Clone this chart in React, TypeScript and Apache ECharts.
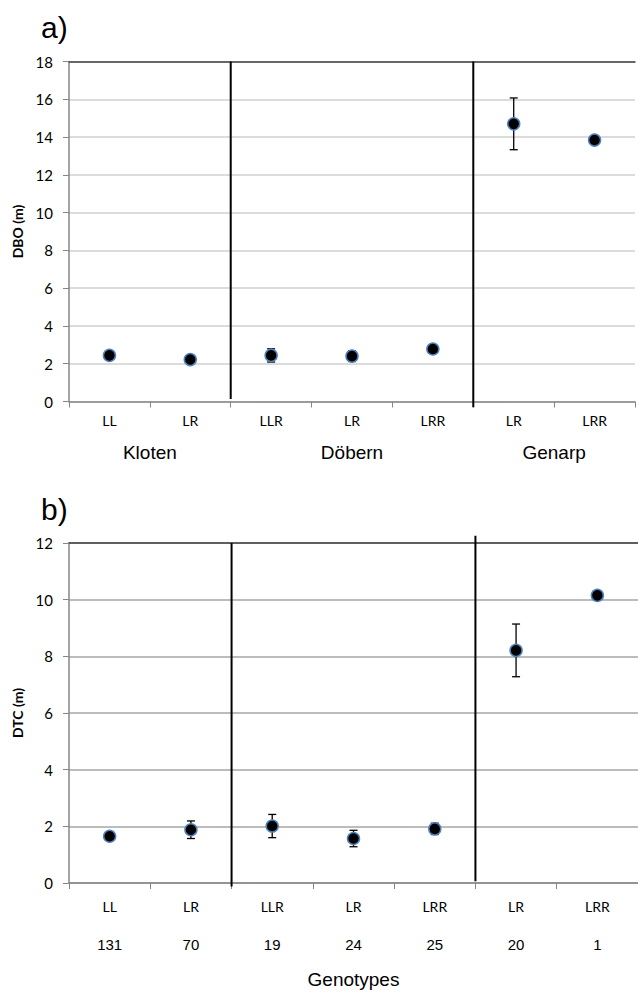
import React, { useEffect, useRef } from "react";
import * as echarts from "echarts";

// ---- data ----
const genotypes = ["LL", "LR", "LLR", "LR", "LRR", "LR", "LRR"];
const counts = ["131", "70", "19", "24", "25", "20", "1"];
const sites = ["Kloten", "Döbern", "Genarp"];
const siteSpans = [2, 3, 2]; // number of genotypes per site

const dboMean = [2.44, 2.22, 2.44, 2.4, 2.78, 14.7, 13.84];
const dboErr = [0.08, 0.08, 0.35, 0.28, 0.13, 1.37, 0];
const dtcMean = [1.65, 1.88, 2.01, 1.57, 1.91, 8.21, 10.15];
const dtcErr = [0.05, 0.31, 0.41, 0.29, 0.2, 0.93, 0];

// divider lines between sites: [x boundary, y top, y bottom]
const dboDividers = [
  [2, 18, 0.13],
  [5, 18, -0.3],
];
const dtcDividers = [
  [2, 12, -0.12],
  [5, 12.26, 0.06],
];

// ---- helpers ----
const siteCenters: Record<string, string> = {};
let start = 0;
siteSpans.forEach((s, i) => {
  siteCenters[String(start + s / 2)] = sites[i];
  start += s;
});

const GRID_LEFT = 69;
const GRID_W = 569;
const AXIS_GRAY = "#868686";

function errorBars(means: number[], errs: number[], xi: number, yi: number) {
  return {
    type: "custom",
    xAxisIndex: xi,
    yAxisIndex: yi,
    z: 3,
    encode: { x: 0, y: [1, 2] },
    data: means
      .map((m, i) => (errs[i] > 0 ? [i, m - errs[i], m + errs[i]] : null))
      .filter((d) => d !== null),
    renderItem: (params: any, api: any) => {
      const x = api.value(0);
      const top = api.coord([x, api.value(2)]);
      const bot = api.coord([x, api.value(1)]);
      const hw = 4;
      const style = { stroke: "#000", lineWidth: 1.3 };
      return {
        type: "group",
        children: [
          { type: "line", shape: { x1: top[0], y1: top[1], x2: bot[0], y2: bot[1] }, style },
          { type: "line", shape: { x1: top[0] - hw, y1: top[1], x2: top[0] + hw, y2: top[1] }, style },
          { type: "line", shape: { x1: bot[0] - hw, y1: bot[1], x2: bot[0] + hw, y2: bot[1] }, style },
        ],
      };
    },
  };
}

function points(means: number[], xi: number, yi: number) {
  return {
    type: "scatter",
    xAxisIndex: xi,
    yAxisIndex: yi,
    z: 5,
    symbol: "circle",
    symbolSize: 12,
    itemStyle: { color: "#000", borderColor: "#4f81bd", borderWidth: 1.5, opacity: 1 },
    data: means.map((m, i) => [i, m]),
  };
}

function dividers(lines: number[][], xi: number, yi: number) {
  return lines.map((l) => ({
    type: "line",
    xAxisIndex: xi,
    yAxisIndex: yi,
    clip: false,
    symbol: "none",
    z: 4,
    silent: true,
    lineStyle: { color: "#000", width: 2 },
    data: [
      [l[0], l[1]],
      [l[0], l[2]],
    ],
  }));
}

function catAxis(gridIndex: number, margin: number) {
  return {
    type: "category",
    gridIndex,
    position: "bottom",
    data: genotypes,
    boundaryGap: true,
    axisLine: { show: true, lineStyle: { color: AXIS_GRAY, width: 1.5 } },
    axisTick: { show: true, length: 6, interval: 0, lineStyle: { color: AXIS_GRAY, width: 1 } },
    axisLabel: {
      interval: 0,
      margin,
      fontSize: 14,
      fontFamily: "Lato",
      color: "#000",
    },
    splitLine: { show: false },
  };
}

function topAxis(gridIndex: number) {
  return {
    type: "category",
    gridIndex,
    position: "top",
    data: genotypes,
    axisLine: { show: true, lineStyle: { color: "#404040", width: 1.5 } },
    axisTick: { show: false },
    axisLabel: { show: false },
    splitLine: { show: false },
  };
}

function yAxis(gridIndex: number, max: number, name: string, splitColor: string) {
  return {
    type: "value",
    gridIndex,
    min: 0,
    max,
    interval: 2,
    name,
    nameLocation: "middle",
    nameGap: 43,
    nameTextStyle: { fontSize: 14, fontWeight: "bold", fontFamily: "Lato", color: "#000" },
    axisLine: { show: true, lineStyle: { color: AXIS_GRAY, width: 1.5 } },
    axisTick: { show: true, length: 6, lineStyle: { color: AXIS_GRAY, width: 1 } },
    axisLabel: { margin: 16, fontSize: 15, fontFamily: "Lato", color: "#000" },
    splitLine: { show: true, lineStyle: { color: splitColor, width: 1.5 } },
  };
}

export default function App() {
  const ref = useRef<HTMLDivElement>(null);

  useEffect(() => {
    if (!ref.current) return;
    const chart = echarts.init(ref.current, undefined, { renderer: "svg" });
    const titleStyle = {
      fontSize: 30,
      fontWeight: "normal",
      fontFamily: "Liberation Sans",
      color: "#000",
    };
    chart.setOption({
      animation: false,
      backgroundColor: "#fff",
      title: [
        { text: "a)", left: 36, top: 7, textStyle: titleStyle },
        { text: "b)", left: 36, top: 489, textStyle: titleStyle },
      ],
      grid: [
        { left: GRID_LEFT, top: 61.5, width: GRID_W, height: 340 },
        { left: GRID_LEFT, top: 543, width: GRID_W, height: 340 },
      ],
      xAxis: [
        catAxis(0, 12), // 0
        {
          // 1: hidden value axis for site labels and dividers
          type: "value",
          gridIndex: 0,
          position: "bottom",
          offset: 41,
          min: 0,
          max: genotypes.length,
          interval: 0.5,
          axisLine: { show: false },
          axisTick: { show: false },
          splitLine: { show: false },
          axisLabel: {
            margin: 0,
            fontSize: 19,
            fontFamily: "Liberation Sans",
            color: "#000",
            showMinLabel: true,
            showMaxLabel: true,
            formatter: (v: number) => siteCenters[String(v)] || "",
          },
        },
        topAxis(0), // 2
        catAxis(1, 16), // 3
        {
          // 4: hidden value axis for dividers
          type: "value",
          gridIndex: 1,
          min: 0,
          max: genotypes.length,
          show: false,
        },
        {
          // 5: counts row + axis title
          type: "category",
          gridIndex: 1,
          position: "bottom",
          offset: 54,
          data: counts,
          name: "Genotypes",
          nameLocation: "middle",
          nameGap: 33,
          nameTextStyle: { fontSize: 19, fontFamily: "Liberation Sans", color: "#000" },
          axisLine: { show: false },
          axisTick: { show: false },
          splitLine: { show: false },
          axisLabel: {
            interval: 0,
            margin: 0,
            fontSize: 15,
            fontFamily: "Liberation Sans",
            color: "#000",
          },
        },
        topAxis(1), // 6
      ],
      yAxis: [yAxis(0, 18, "DBO (m)", "#d0d0d0"), yAxis(1, 12, "DTC (m)", "#a6a6a6")],
      series: [
        errorBars(dboMean, dboErr, 0, 0),
        points(dboMean, 0, 0),
        ...dividers(dboDividers, 1, 0),
        errorBars(dtcMean, dtcErr, 3, 1),
        points(dtcMean, 3, 1),
        ...dividers(dtcDividers, 4, 1),
      ],
    });
    return () => chart.dispose();
  }, []);

  return (
    <div
      ref={ref}
      style={{ position: "absolute", left: 0, top: 0, width: 638, height: 994, background: "#fff" }}
    />
  );
}
